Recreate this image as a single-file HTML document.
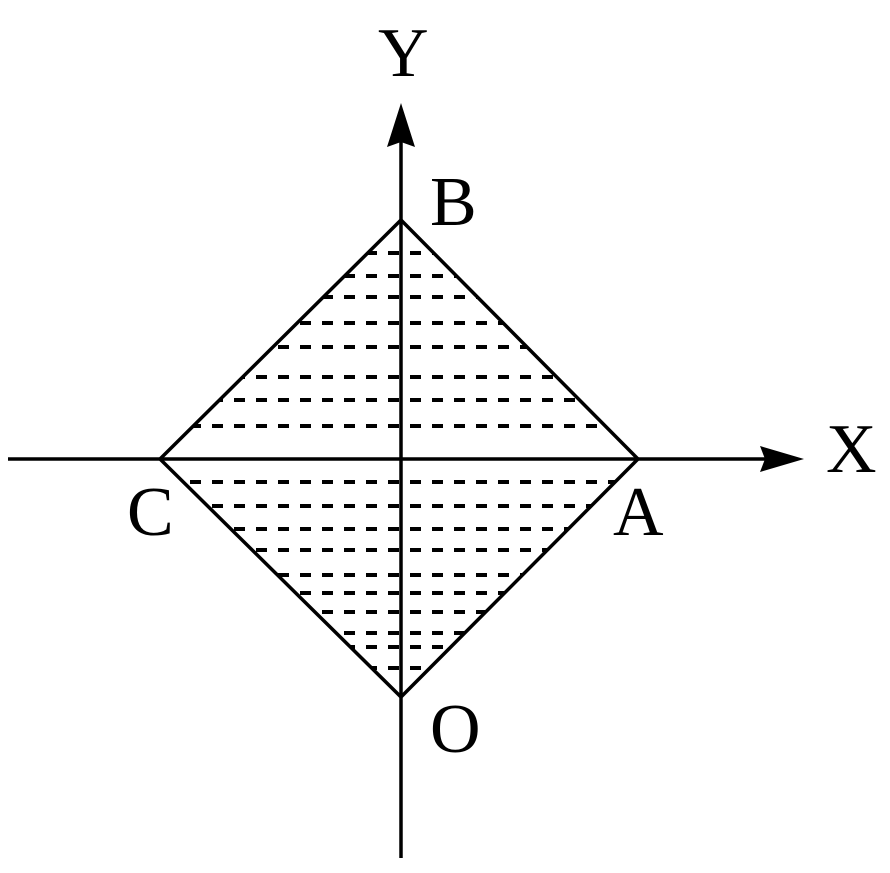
<!DOCTYPE html>
<html><head><style>html,body{margin:0;padding:0;background:#fff}
text{font-family:"Liberation Serif","Times New Roman",Times,serif;font-size:70px;fill:#000}</style></head>
<body>
<svg width="890" height="868" viewBox="0 0 890 868" xmlns="http://www.w3.org/2000/svg">
<defs><clipPath id="d"><polygon points="401,220 638,459 401,697 160,459"/></clipPath></defs>
<g clip-path="url(#d)" stroke="#000" stroke-width="4" stroke-dasharray="11,11" stroke-dashoffset="4">
<line x1="150" y1="253" x2="650" y2="253"/>
<line x1="150" y1="276" x2="650" y2="276"/>
<line x1="150" y1="297" x2="650" y2="297"/>
<line x1="150" y1="323" x2="650" y2="323"/>
<line x1="150" y1="347" x2="650" y2="347"/>
<line x1="150" y1="377" x2="650" y2="377"/>
<line x1="150" y1="400" x2="650" y2="400"/>
<line x1="150" y1="426" x2="650" y2="426"/>
<line x1="150" y1="482" x2="650" y2="482"/>
<line x1="150" y1="506" x2="650" y2="506"/>
<line x1="150" y1="529" x2="650" y2="529"/>
<line x1="150" y1="550" x2="650" y2="550"/>
<line x1="150" y1="575" x2="650" y2="575"/>
<line x1="150" y1="593" x2="650" y2="593"/>
<line x1="150" y1="612" x2="650" y2="612"/>
<line x1="150" y1="633" x2="650" y2="633"/>
<line x1="150" y1="647" x2="650" y2="647"/>
<line x1="150" y1="668" x2="650" y2="668"/>
</g>
<g stroke="#000" stroke-width="3.5" fill="none">
<line x1="401" y1="135" x2="401" y2="858"/>
<line x1="8" y1="459" x2="770" y2="459"/>
<polygon points="401,220 638,459 401,697 160,459"/>
</g>
<polygon points="401,103 415,147 401,142 387,147" fill="#000"/>
<polygon points="804,459 760,472 765,459 760,446" fill="#000"/>
<text x="378" y="76">Y</text>
<text x="430" y="225">B</text>
<text x="826" y="472">X</text>
<text x="127" y="535">C</text>
<text x="613" y="535">A</text>
<text x="430" y="752">O</text>
</svg>
</body></html>
